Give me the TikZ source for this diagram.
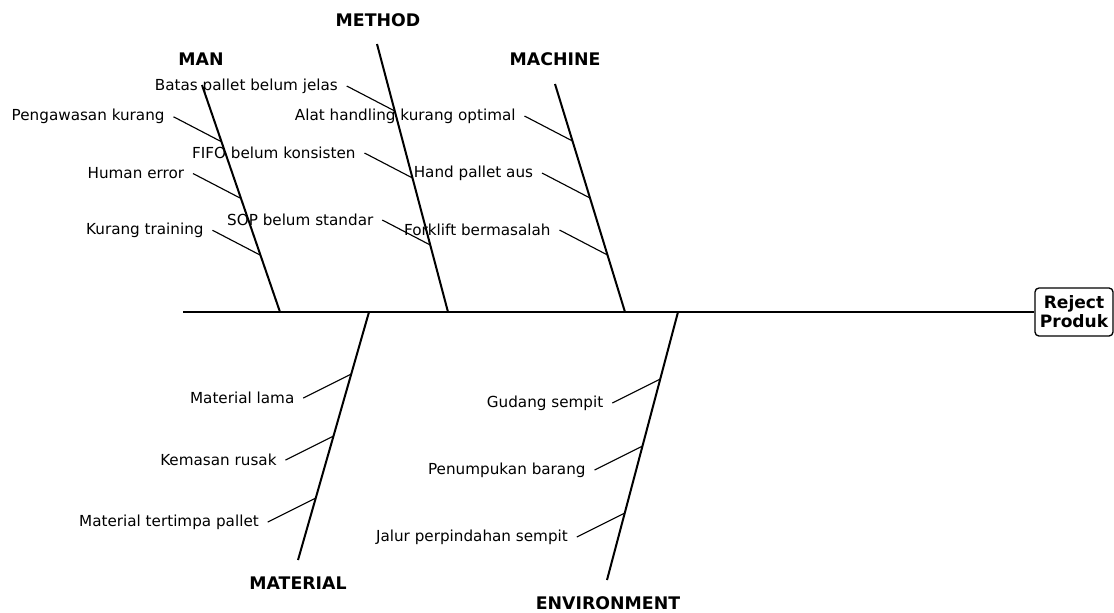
\documentclass[tikz,border=0pt]{standalone}
\usepackage{fontspec}
\setmainfont{DejaVu Sans}
\usetikzlibrary{calc}
\begin{document}
\begin{tikzpicture}[x=0.75pt,y=-0.75pt,
    bone/.style={line width=1.5pt},
    twig/.style={line width=0.85pt},
    cause/.style={anchor=east, inner xsep=6.5pt, inner ysep=0pt, font=\fontsize{11.4}{13}\selectfont},
    category/.style={font=\bfseries\fontsize{13}{15}\selectfont},
    effect/.style={draw, line width=1pt, rounded corners=3pt, align=center, minimum width=58.5pt,
        minimum height=36pt, inner sep=2pt, font=\bfseries\fontsize{12.8}{14.3}\selectfont}]

    \useasboundingbox (0,0) rectangle (1114,612);

    % Effect and spine
    \node[effect] (effect) at (1074,312) {Reject\\Produk};
    \coordinate (tail) at (183,312);
    \draw[bone] (tail) -- (effect.west);

    % Man
    \coordinate (manTop) at (202,85);
    \coordinate (manFoot) at (280,312);
    \node[category] (man) at (201,59) {MAN};
    \draw[bone] (manTop) -- (manFoot);
    \coordinate (manA) at ($(manTop)!0.25!(manFoot)$);
    \coordinate (manB) at ($(manTop)!0.5!(manFoot)$);
    \coordinate (manC) at ($(manTop)!0.75!(manFoot)$);
    \node[cause] (pengawasan) at ($(manA)+(-48,-25)$) {Pengawasan kurang};
    \node[cause] (human) at ($(manB)+(-48,-25)$) {Human error};
    \node[cause] (training) at ($(manC)+(-48,-25)$) {Kurang training};
    \draw[twig] (pengawasan.east) -- (manA);
    \draw[twig] (human.east) -- (manB);
    \draw[twig] (training.east) -- (manC);

    % Method
    \coordinate (methodTop) at (377,44);
    \coordinate (methodFoot) at (448,312);
    \node[category] (method) at (378,20) {METHOD};
    \draw[bone] (methodTop) -- (methodFoot);
    \coordinate (methodA) at ($(methodTop)!0.25!(methodFoot)$);
    \coordinate (methodB) at ($(methodTop)!0.5!(methodFoot)$);
    \coordinate (methodC) at ($(methodTop)!0.75!(methodFoot)$);
    \node[cause] (batas) at ($(methodA)+(-48,-25)$) {Batas pallet belum jelas};
    \node[cause] (fifo) at ($(methodB)+(-48,-25)$) {FIFO belum konsisten};
    \node[cause] (sop) at ($(methodC)+(-48,-25)$) {SOP belum standar};
    \draw[twig] (batas.east) -- (methodA);
    \draw[twig] (fifo.east) -- (methodB);
    \draw[twig] (sop.east) -- (methodC);

    % Machine
    \coordinate (machineTop) at (555,84);
    \coordinate (machineFoot) at (625,312);
    \node[category] (machine) at (555,59) {MACHINE};
    \draw[bone] (machineTop) -- (machineFoot);
    \coordinate (machineA) at ($(machineTop)!0.25!(machineFoot)$);
    \coordinate (machineB) at ($(machineTop)!0.5!(machineFoot)$);
    \coordinate (machineC) at ($(machineTop)!0.75!(machineFoot)$);
    \node[cause] (alat) at ($(machineA)+(-48,-25)$) {Alat handling kurang optimal};
    \node[cause] (hand) at ($(machineB)+(-48,-25)$) {Hand pallet aus};
    \node[cause] (forklift) at ($(machineC)+(-48,-25)$) {Forklift bermasalah};
    \draw[twig] (alat.east) -- (machineA);
    \draw[twig] (hand.east) -- (machineB);
    \draw[twig] (forklift.east) -- (machineC);

    % Material
    \coordinate (materialTop) at (369,312);
    \coordinate (materialFoot) at (298,560);
    \node[category] (material) at (298,583) {MATERIAL};
    \draw[bone] (materialTop) -- (materialFoot);
    \coordinate (materialA) at ($(materialTop)!0.25!(materialFoot)$);
    \coordinate (materialB) at ($(materialTop)!0.5!(materialFoot)$);
    \coordinate (materialC) at ($(materialTop)!0.75!(materialFoot)$);
    \node[cause] (lama) at ($(materialA)+(-48,24)$) {Material lama};
    \node[cause] (kemasan) at ($(materialB)+(-48,24)$) {Kemasan rusak};
    \node[cause] (tertimpa) at ($(materialC)+(-48,24)$) {Material tertimpa pallet};
    \draw[twig] (lama.east) -- (materialA);
    \draw[twig] (kemasan.east) -- (materialB);
    \draw[twig] (tertimpa.east) -- (materialC);

    % Environment
    \coordinate (envTop) at (678,312);
    \coordinate (envFoot) at (607,580);
    \node[category] (env) at (608,603) {ENVIRONMENT};
    \draw[bone] (envTop) -- (envFoot);
    \coordinate (envA) at ($(envTop)!0.25!(envFoot)$);
    \coordinate (envB) at ($(envTop)!0.5!(envFoot)$);
    \coordinate (envC) at ($(envTop)!0.75!(envFoot)$);
    \node[cause] (gudang) at ($(envA)+(-48,24)$) {Gudang sempit};
    \node[cause] (penumpukan) at ($(envB)+(-48,24)$) {Penumpukan barang};
    \node[cause] (jalur) at ($(envC)+(-48,24)$) {Jalur perpindahan sempit};
    \draw[twig] (gudang.east) -- (envA);
    \draw[twig] (penumpukan.east) -- (envB);
    \draw[twig] (jalur.east) -- (envC);
\end{tikzpicture}
\end{document}
